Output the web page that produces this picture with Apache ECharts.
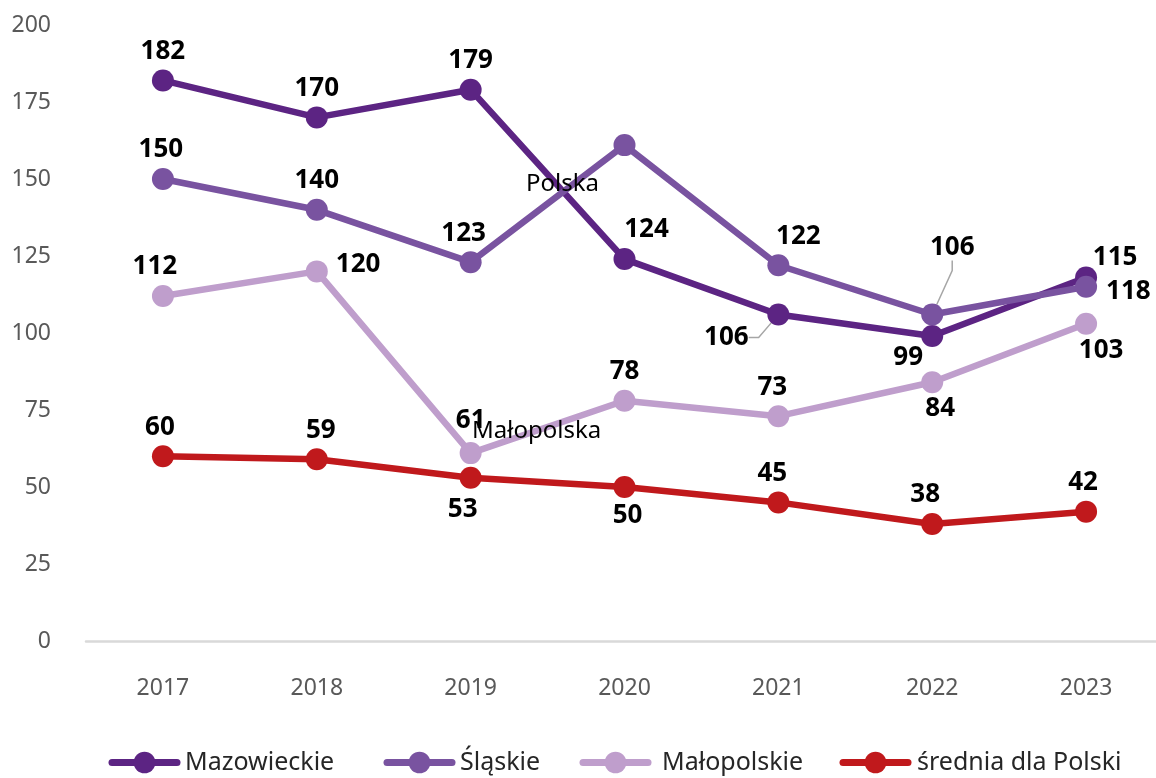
<!DOCTYPE html>
<html>
<head>
<meta charset="utf-8">
<script src="https://cdn.jsdelivr.net/npm/echarts@6/dist/echarts.min.js"></script>
<style>
  html, body { margin: 0; padding: 0; background: #fff; }
  #chart { width: 1156px; height: 778px; }
</style>
</head>
<body>
<div id="chart"></div>
<script>
// Categories and series values
const years = ['2017', '2018', '2019', '2020', '2021', '2022', '2023'];
const mazowieckie = [182, 170, 179, 124, 106, 99, 118];
const slaskie = [150, 140, 123, 161, 122, 106, 115];
const malopolskie = [112, 120, 61, 78, 73, 84, 103];
const srednia = [60, 59, 53, 50, 45, 38, 42];
const yTicks = [0, 25, 50, 75, 100, 125, 150, 175, 200];

// Free-standing annotations: [series name, category index, text]
const notes = [
  ['Śląskie', 3, 'Polska'],
  ['Małopolskie', 2, 'Małopolska']
];

const FONT = "'Noto Sans', 'Open Sans', sans-serif";
const colors = {
  'Mazowieckie': '#5c2483',
  'Śląskie': '#7953a0',
  'Małopolskie': '#bf9ecc',
  'średnia dla Polski': '#c0191c'
};

// Label placement per point: [position, shift [dx, dy], guide line]
const placement = {
  'Mazowieckie': [['top'], ['top'], ['top'], ['top', [22, 0]], ['bottom', [-52, -6], true], ['bottom', [-24, -7]], ['right', [4, 14]]],
  'Śląskie': [['top', [-2, 0]], ['top'], ['top', [-7, 0]], null, ['top', [20, 0]], ['top', [20, -38], true], ['top', [29, 0]]],
  'Małopolskie': [['top', [-8, 0]], ['right', [3, -7]], ['top', [0, -4]], ['top'], ['top', [-6, 0]], ['bottom', [8, -3]], ['bottom', [15, -2]]],
  'średnia dla Polski': [['top', [-3, 0]], ['top', [4, 0]], ['bottom', [-8, 3]], ['bottom', [3, 0]], ['top', [-6, 0]], ['top', [-7, 0]], ['top', [-3, 0]]]
};

const labelBase = {
  show: true,
  color: '#000',
  fontFamily: FONT,
  fontWeight: 'bold',
  fontSize: 26,
  distance: 5
};

function buildSeries(name, values) {
  const plc = placement[name];
  const data = values.map((v, i) => {
    const p = plc[i];
    if (!p) return { value: v, label: { show: false } };
    const item = { value: v, label: { position: p[0] } };
    if (p[2]) item.labelLine = { show: true };
    return item;
  });
  const markData = notes
    .filter(n => n[0] === name)
    .map(n => ({
      coord: [years[n[1]], values[n[1]]],
      label: { formatter: n[2] }
    }));
  return {
    name: name,
    type: 'line',
    data: data,
    symbol: 'circle',
    symbolSize: 22,
    showAllSymbol: true,
    color: colors[name],
    lineStyle: { width: 6.5, color: colors[name], cap: 'round', join: 'round' },
    itemStyle: { color: colors[name] },
    label: labelBase,
    labelLine: { show: false, length2: 10, lineStyle: { color: '#a6a6a6', width: 1.5 } },
    labelLayout: function (params) {
      const p = plc[params.dataIndex];
      if (p && p[1]) return { dx: p[1][0], dy: p[1][1] };
      return {};
    },
    emphasis: { disabled: true },
    markPoint: markData.length ? {
      symbol: 'circle',
      symbolSize: 0,
      silent: true,
      animation: false,
      label: {
        show: true,
        position: 'inside',
        color: '#000',
        fontFamily: FONT,
        fontSize: 24,
        offset: name === 'Śląskie' ? [-62, 39] : [66, -22]
      },
      data: markData
    } : undefined,
    z: 2
  };
}

const seriesNames = ['Mazowieckie', 'Śląskie', 'Małopolskie', 'średnia dla Polski'];
const seriesValues = [mazowieckie, slaskie, malopolskie, srednia];
const legendLeft = [108.5, 383.5, 579.5, 839.5];
const legendTextPad = [3, 3, 9, 4];

const chart = echarts.init(document.getElementById('chart'), null, { renderer: 'canvas' });
chart.setOption({
  animation: false,
  backgroundColor: '#fff',
  textStyle: { fontFamily: FONT },
  grid: { left: 86, top: 25, width: 1077, height: 616, containLabel: false, outerBoundsMode: 'none' },
  legend: seriesNames.map((n, i) => ({
    data: [n],
    left: legendLeft[i],
    top: 750,
    padding: 0,
    itemWidth: 65,
    itemHeight: 27,
    itemGap: 0,
    lineStyle: { width: 7, cap: 'round' },
    textStyle: { fontFamily: FONT, fontSize: 25, color: '#262626', padding: [0, 0, 0, legendTextPad[i]] },
    selectedMode: false
  })),
  xAxis: {
    type: 'category',
    data: years,
    boundaryGap: true,
    axisLine: { show: true, lineStyle: { color: '#d9d9d9', width: 2.5 } },
    axisTick: { show: false },
    axisLabel: { color: '#595959', fontSize: 23, fontFamily: FONT, margin: 36 },
    splitLine: { show: false }
  },
  yAxis: {
    type: 'value',
    min: yTicks[0],
    max: yTicks[yTicks.length - 1],
    interval: yTicks[1] - yTicks[0],
    axisLine: { show: false },
    axisTick: { show: false },
    splitLine: { show: false },
    axisLabel: { color: '#595959', fontSize: 23, fontFamily: FONT, margin: 35 }
  },
  series: seriesNames.map((n, i) => buildSeries(n, seriesValues[i]))
});
</script>
</body>
</html>
